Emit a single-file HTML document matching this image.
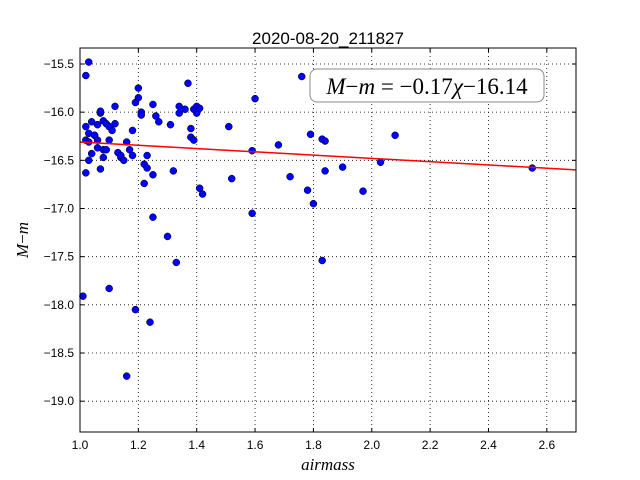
<!DOCTYPE html>
<html><head><meta charset="utf-8"><style>
body{margin:0;background:#fff;}
svg{display:block;font-family:"Liberation Sans",sans-serif;}
</style></head><body>
<svg id="chart" width="640" height="480">
<rect width="640" height="480" fill="#fff"/>
<text x="328" y="44" font-size="17" text-anchor="middle">2020-08-20_211827</text>
<g id="grid"></g>
<g id="ticks" font-size="12"></g>
<g id="pts"></g>
<g id="fit"></g>
<rect x="80" y="48" width="496" height="384" fill="none" stroke="#000" stroke-width="1"/>
<g>
<rect x="310" y="69" width="234" height="33" rx="7" fill="#fff" stroke="#888" stroke-width="1"/>
<text x="427" y="94" font-family="Liberation Serif,serif" font-size="23" text-anchor="middle"><tspan font-style="italic">M</tspan>−<tspan font-style="italic">m</tspan> = −0.17<tspan font-style="italic">χ</tspan>−16.14</text>
</g>
<text x="328" y="470" font-family="Liberation Serif,serif" font-style="italic" font-size="17" text-anchor="middle">airmass</text>
<text transform="translate(28,240) rotate(-90)" font-family="Liberation Serif,serif" font-size="17" text-anchor="middle"><tspan font-style="italic">M</tspan>−<tspan font-style="italic">m</tspan></text>
</svg>
<script>
const airmass=[1.01,1.02,1.03,1.02,1.02,1.02,1.03,1.03,1.03,1.04,1.04,1.05,1.05,1.06,1.06,1.06,1.07,1.07,1.07,1.08,1.08,1.08,1.09,1.09,1.10,1.10,1.10,1.11,1.12,1.12,1.13,1.14,1.14,1.15,1.16,1.16,1.17,1.18,1.18,1.19,1.19,1.20,1.20,1.21,1.21,1.22,1.22,1.23,1.23,1.24,1.25,1.25,1.25,1.26,1.27,1.30,1.31,1.32,1.33,1.34,1.34,1.36,1.37,1.38,1.38,1.39,1.39,1.40,1.40,1.41,1.41,1.42,1.51,1.52,1.59,1.59,1.60,1.68,1.72,1.76,1.78,1.79,1.80,1.83,1.84,1.84,1.83,1.90,1.97,2.03,2.08,2.55];
const mag=[-17.91,-15.62,-15.48,-16.15,-16.29,-16.63,-16.31,-16.22,-16.50,-16.10,-16.43,-16.24,-16.24,-16.29,-16.13,-16.37,-16.01,-15.99,-16.59,-16.47,-16.09,-16.39,-16.39,-16.12,-17.83,-16.29,-16.15,-16.19,-16.12,-15.94,-16.42,-16.47,-16.45,-16.50,-18.74,-16.31,-16.39,-16.45,-16.19,-18.05,-15.90,-15.75,-15.85,-16.00,-16.03,-16.74,-16.54,-16.45,-16.58,-18.18,-16.65,-17.09,-15.92,-16.04,-16.10,-17.29,-16.13,-16.61,-17.56,-16.01,-15.94,-15.97,-15.70,-16.17,-16.26,-15.97,-16.29,-16.01,-15.94,-15.96,-16.79,-16.85,-16.15,-16.69,-17.05,-16.40,-15.86,-16.34,-16.67,-15.63,-16.81,-16.23,-16.95,-16.28,-16.30,-16.61,-17.54,-16.57,-16.82,-16.52,-16.24,-16.58];
const xTicks=[1.0,1.2,1.4,1.6,1.8,2.0,2.2,2.4,2.6];
const yTicks=[-15.5,-16.0,-16.5,-17.0,-17.5,-18.0,-18.5,-19.0];
const slope=[-0.17], intercept=[-16.14];
const X0=80,X1=576,Y0=48,Y1=432,xmin=1.0,xmax=2.7,ytop=-15.334,ybot=-19.32;
const sx=v=>X0+(v-xmin)/(xmax-xmin)*(X1-X0);
const sy=v=>Y0+(ytop-v)/(ytop-ybot)*(Y1-Y0);
const NS="http://www.w3.org/2000/svg";
function mk(t,a,p){const e=document.createElementNS(NS,t);for(const k in a)e.setAttribute(k,a[k]);p.appendChild(e);return e;}
const grid=document.getElementById('grid'),ticks=document.getElementById('ticks');
xTicks.forEach(v=>{const x=sx(v);
 const g=mk('line',{x1:x,x2:x,y1:Y0,y2:Y1,stroke:'#000','stroke-dasharray':'1,3','stroke-width':0.8},grid);
 
 
 mk('line',{x1:x,x2:x,y1:Y1,y2:Y1-4,stroke:'#000'},ticks);mk('line',{x1:x,x2:x,y1:Y0,y2:Y0+4,stroke:'#000'},ticks);
 const t=mk('text',{x:x,y:Y1+17,'text-anchor':'middle'},ticks);t.textContent=v.toFixed(1);
 
 });
yTicks.forEach(v=>{const y=sy(v);
 const g=mk('line',{x1:X0,x2:X1,y1:y,y2:y,stroke:'#000','stroke-dasharray':'1,3','stroke-width':0.8},grid);
 
 
 mk('line',{x1:X0,x2:X0+4,y1:y,y2:y,stroke:'#000'},ticks);mk('line',{x1:X1,x2:X1-4,y1:y,y2:y,stroke:'#000'},ticks);
 const t=mk('text',{x:X0-6,y:y+4,'text-anchor':'end'},ticks);t.textContent=v.toFixed(1).replace('-','−');
 
 });
const fit=mk('line',{x1:sx(xmin),y1:sy(slope[0]*xmin+intercept[0]),x2:sx(xmax),y2:sy(slope[0]*xmax+intercept[0]),stroke:'#f00','stroke-width':1.5},document.getElementById('fit'));


const pts=document.getElementById('pts');
airmass.forEach((a,i)=>{const c=mk('circle',{cx:sx(a),cy:sy(mag[i]),r:3.5,fill:'#0000ff',stroke:'#000','stroke-width':0.5},pts);
 
 });
</script>
</body></html>
